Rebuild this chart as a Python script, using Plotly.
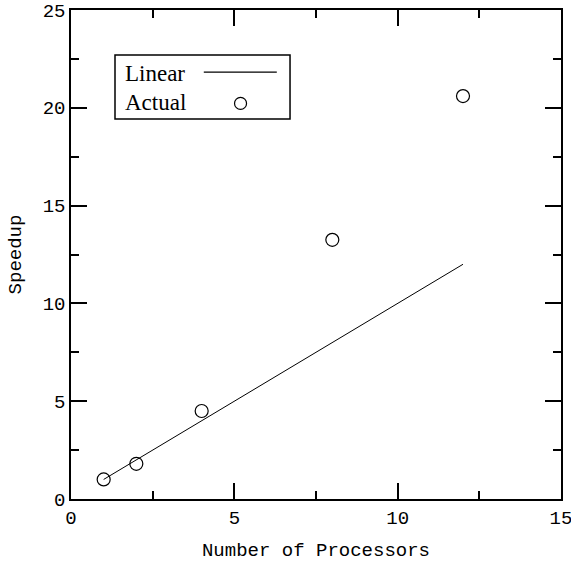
import plotly.graph_objects as go

# Data
processors = [1, 2, 4, 8, 12]
actual_speedup = [1.0, 1.8, 4.5, 13.25, 20.6]
linear_x = [1, 12]
linear_y = [1, 12]

x_ticks = [0, 5, 10, 15]
y_ticks = [0, 5, 10, 15, 20, 25]

mono = "Liberation Mono"
serif = "Liberation Serif"

fig = go.Figure()
fig.add_trace(go.Scatter(x=linear_x, y=linear_y, mode="lines",
                         line=dict(color="black", width=1), name="Linear",
                         showlegend=False))
fig.add_trace(go.Scatter(x=processors, y=actual_speedup, mode="markers",
                         marker=dict(symbol="circle-open", size=13, color="black",
                                     line=dict(width=1.2, color="black")),
                         name="Actual", showlegend=False, cliponaxis=False))

axis_common = dict(
    showgrid=False, zeroline=False, showline=True, linecolor="black", linewidth=1.5,
    mirror="ticks", ticks="inside", ticklen=16, tickwidth=1.5, tickcolor="black",
    tickfont=dict(family=mono, size=19, color="black"),
    automargin=False, ticklabeloverflow="allow",
)

fig.update_xaxes(range=[0, 15], tickvals=x_ticks, ticktext=[str(v) for v in x_ticks],
                 minor=dict(ticks="inside", ticklen=8, tickwidth=1.5, tickcolor="black", dtick=2.5, tick0=0),
                 title=dict(text="Number of Processors", font=dict(family=mono, size=19, color="black"),
                            standoff=14),
                 **axis_common)
fig.update_yaxes(range=[0, 25], tickvals=y_ticks, ticktext=[str(v) for v in y_ticks],
                 minor=dict(ticks="inside", ticklen=8, tickwidth=1.5, tickcolor="black", dtick=2.5, tick0=0),
                 title=dict(text="Speedup", font=dict(family=mono, size=19, color="black"),
                            standoff=16),
                 **axis_common)

# Legend box (text left, symbol right)
fig.add_shape(type="rect", xref="paper", yref="paper", x0=0.0898, x1=0.447, y0=0.777, y1=0.908,
              line=dict(color="black", width=1.5), fillcolor="white", layer="above")
fig.add_shape(type="line", xref="paper", yref="paper", x0=0.271, x1=0.420, y0=0.873, y1=0.873,
              line=dict(color="black", width=1.2))
fig.add_shape(type="circle", xref="paper", yref="paper", xsizemode="pixel", ysizemode="pixel",
              xanchor=0.346, yanchor=0.809, x0=-6, x1=6, y0=-6, y1=6,
              line=dict(color="black", width=1.2))
fig.add_annotation(text="Linear", xref="paper", yref="paper", x=0.106, y=0.871,
                   xanchor="left", yanchor="middle", showarrow=False,
                   font=dict(family=serif, size=23, color="black"))
fig.add_annotation(text="Actual", xref="paper", yref="paper", x=0.106, y=0.810,
                   xanchor="left", yanchor="middle", showarrow=False,
                   font=dict(family=serif, size=23, color="black"))

fig.update_layout(width=571, height=562, margin=dict(l=71, r=10, t=10, b=63),
                  plot_bgcolor="white", paper_bgcolor="white", showlegend=False)

fig.write_html("out.html", config={"displayModeBar": False},
               post_script="document.body.style.margin='0';document.body.style.overflow='hidden';")
